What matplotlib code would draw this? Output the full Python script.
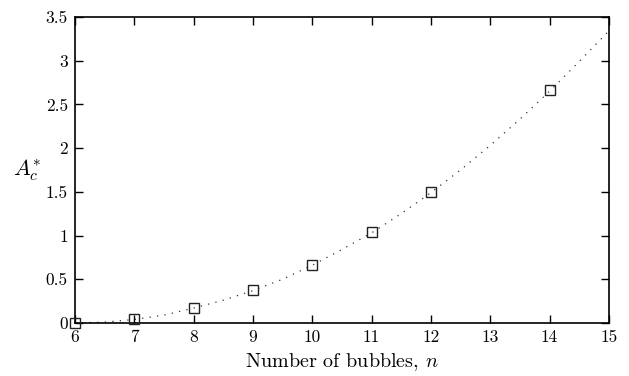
# Packages
import matplotlib
matplotlib.use('Agg')
import matplotlib.pyplot as plt

plt.rcParams['font.family'] = 'serif'
plt.rcParams['font.serif'] = ['cmr10', 'DejaVu Serif']
plt.rcParams['mathtext.fontset'] = 'cm'
plt.rcParams['axes.formatter.use_mathtext'] = True

# Data
n_points = [6, 7, 8, 9, 10, 11, 12, 14]
ac_points = [0.0, 0.05, 0.17, 0.38, 0.66, 1.04, 1.50, 2.67]

n_fit = [6, 6.5, 7, 7.5, 8, 8.5, 9, 9.5, 10, 10.5, 11, 11.5, 12, 12.5, 13, 13.5, 14, 14.5, 15]
ac_fit = [0.0, 0.01, 0.04, 0.09, 0.17, 0.26, 0.37, 0.50, 0.66, 0.84, 1.03, 1.25,
          1.49, 1.75, 2.03, 2.33, 2.65, 2.99, 3.34]

x_ticks = list(range(6, 16))
y_ticks = [0, 0.5, 1, 1.5, 2, 2.5, 3, 3.5]
y_ticklabels = ['0', '0.5', '1', '1.5', '2', '2.5', '3', '3.5']

# Plotting
fig = plt.figure(figsize=(6.29, 3.76), dpi=100)
ax = fig.add_axes([0.119, 0.141, 0.849, 0.814])

ax.plot(n_fit, ac_fit, linestyle=(0, (1, 5)), color='#333333', linewidth=0.9, zorder=2)
ax.plot(n_points, ac_points, linestyle='none', marker='s', markersize=7.5,
        markerfacecolor='none', markeredgecolor='#222222', markeredgewidth=1.0,
        clip_on=False, zorder=3)

ax.set_xlim(6, 15)
ax.set_ylim(0, 3.5)
ax.set_xticks(x_ticks)
ax.set_xticklabels([str(t) for t in x_ticks])
ax.set_yticks(y_ticks)
ax.set_yticklabels(y_ticklabels)

ax.tick_params(direction='in', top=True, right=True, length=6, width=1,
               labelsize=12.5, colors='black')
ax.tick_params(axis='x', pad=5)
ax.tick_params(axis='y', pad=5)
for s in ax.spines.values():
    s.set_linewidth(1.2)

ax.set_xlabel(r'Number of bubbles, $n$', fontsize=14.5, labelpad=4)
ax.set_ylabel(r'$A_c^{*}$', fontsize=16, rotation=0, va='center', ha='center')
ax.yaxis.set_label_coords(-0.09, 0.5)

fig.savefig('out.png', dpi=100)
